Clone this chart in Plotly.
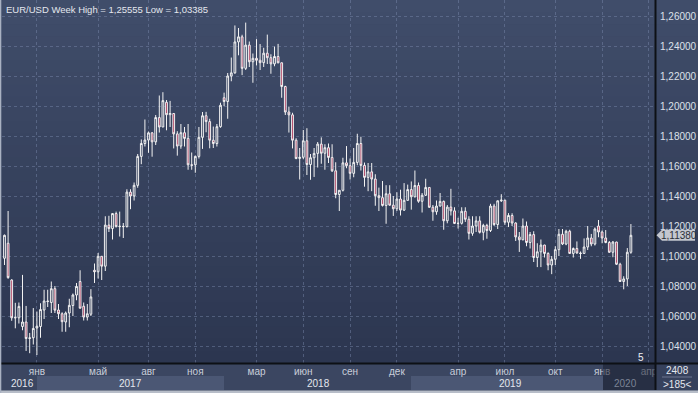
import pandas as pd
import plotly.graph_objects as go

# ---------------- data (weekly EUR/USD, week starting dates) ----------------
start_week = "2016-10-31"
open_ = [1.0985,1.1085,1.0840,1.0590,1.0588,1.0530,1.0560,1.0450,1.0455,1.0520,
         1.0530,1.0640,1.0700,1.0690,1.0782,1.0640,1.0615,1.0560,1.0620,1.0670,
         1.0740,1.0830,1.0665,1.0593,1.0612,1.0905,1.0895,1.0998,1.0932,1.1206,
         1.1183,1.1283,1.1196,1.1198,1.1196,1.1426,1.1400,1.1471,1.1664,1.1750,
         1.1773,1.1821,1.1761,1.1923,1.1860,1.2025,1.1942,1.1950,1.1814,1.1733,
         1.1822,1.1784,1.1608,1.1608,1.1664,1.1791,1.1935,1.1896,1.1772,1.1750,
         1.1862,1.2055,1.2030,1.2200,1.2221,1.2427,1.2461,1.2251,1.2406,1.2295,
         1.2318,1.2305,1.2289,1.2352,1.2322,1.2281,1.2330,1.2288,1.2130,1.1960,
         1.1941,1.1772,1.1650,1.1658,1.1768,1.1610,1.1655,1.1684,1.1746,1.1685,
         1.1722,1.1657,1.1568,1.1410,1.1438,1.1621,1.1602,1.1551,1.1624,1.1750,
         1.1604,1.1524,1.1561,1.1513,1.1402,1.1389,1.1337,1.1415,1.1339,1.1315,
         1.1380,1.1306,1.1371,1.1443,1.1395,1.1470,1.1365,1.1405,1.1457,1.1325,
         1.1295,1.1333,1.1364,1.1235,1.1326,1.1301,1.1217,1.1218,1.1298,1.1245,
         1.1151,1.1200,1.1234,1.1158,1.1204,1.1170,1.1333,1.1210,1.1368,1.1372,
         1.1225,1.1270,1.1220,1.1127,1.1108,1.1200,1.1090,1.1143,1.0990,1.1028,
         1.1073,1.1017,1.0940,1.0978,1.1042,1.1145,1.1080,1.1165,1.1017,1.1050,
         1.1020,1.1017,1.1060,1.1120,1.1080,1.1200,1.1160,1.1120,1.1090,1.1025,
         1.1093,1.0945,1.0830,1.0847,1.1025]
high = [1.1143,1.1300,1.0845,1.0688,1.0690,1.0874,1.0667,1.0487,1.0653,1.0630,
        1.0685,1.0775,1.0775,1.0830,1.0800,1.0680,1.0625,1.0630,1.0715,1.0750,
        1.0820,1.0905,1.0690,1.0680,1.0779,1.0950,1.1020,1.1000,1.1265,1.1268,
        1.1285,1.1296,1.1296,1.1220,1.1445,1.1445,1.1490,1.1680,1.1777,1.1910,
        1.1830,1.1826,1.1940,1.2070,1.2092,1.2040,1.2034,1.1952,1.1832,1.1880,
        1.1860,1.1880,1.1690,1.1670,1.1860,1.1960,1.1961,1.1915,1.1863,1.1880,
        1.2022,1.2089,1.2220,1.2323,1.2537,1.2520,1.2475,1.2556,1.2430,1.2350,
        1.2446,1.2413,1.2388,1.2476,1.2345,1.2396,1.2414,1.2290,1.2135,1.1996,
        1.1955,1.1785,1.1720,1.1840,1.1852,1.1680,1.1720,1.1760,1.1791,1.1745,
        1.1750,1.1745,1.1625,1.1440,1.1655,1.1733,1.1650,1.1720,1.1815,1.1795,
        1.1623,1.1620,1.1620,1.1545,1.1456,1.1500,1.1472,1.1472,1.1400,1.1425,
        1.1442,1.1486,1.1476,1.1497,1.1570,1.1490,1.1420,1.1515,1.1460,1.1340,
        1.1370,1.1420,1.1370,1.1340,1.1448,1.1325,1.1255,1.1325,1.1325,1.1265,
        1.1265,1.1265,1.1265,1.1215,1.1215,1.1348,1.1348,1.1370,1.1412,1.1375,
        1.1286,1.1285,1.1225,1.1160,1.1250,1.1230,1.1160,1.1165,1.1085,1.1110,
        1.1075,1.1025,1.1000,1.1065,1.1180,1.1180,1.1175,1.1175,1.1057,1.1097,
        1.1030,1.1117,1.1200,1.1147,1.1190,1.1240,1.1170,1.1173,1.1100,1.1100,
        1.1095,1.0955,1.0865,1.1053,1.1213]
low = [1.0940,1.0848,1.0568,1.0518,1.0550,1.0505,1.0367,1.0352,1.0410,1.0340,
       1.0455,1.0580,1.0660,1.0620,1.0620,1.0580,1.0495,1.0495,1.0525,1.0600,
       1.0705,1.0650,1.0570,1.0570,1.0600,1.0820,1.0850,1.0840,1.0900,1.1160,
       1.1110,1.1190,1.1130,1.1120,1.1190,1.1312,1.1370,1.1455,1.1612,1.1730,
       1.1688,1.1662,1.1740,1.1823,1.1860,1.1838,1.1860,1.1717,1.1669,1.1715,
       1.1730,1.1575,1.1575,1.1555,1.1650,1.1714,1.1825,1.1718,1.1720,1.1730,
       1.1855,1.1999,1.1915,1.2165,1.2215,1.2338,1.2206,1.2240,1.2260,1.2155,
       1.2270,1.2240,1.2260,1.2280,1.2215,1.2265,1.2285,1.2055,1.1940,1.1823,
       1.1717,1.1645,1.1510,1.1645,1.1540,1.1508,1.1527,1.1590,1.1615,1.1575,
       1.1620,1.1560,1.1385,1.1300,1.1430,1.1585,1.1510,1.1525,1.1605,1.1570,
       1.1462,1.1432,1.1432,1.1335,1.1300,1.1330,1.1215,1.1335,1.1267,1.1300,
       1.1270,1.1300,1.1370,1.1309,1.1390,1.1355,1.1290,1.1400,1.1320,1.1235,
       1.1275,1.1330,1.1175,1.1218,1.1270,1.1213,1.1183,1.1210,1.1227,1.1110,
       1.1135,1.1160,1.1150,1.1105,1.1115,1.1160,1.1200,1.1180,1.1360,1.1208,
       1.1193,1.1200,1.1100,1.1027,1.1105,1.1065,1.1050,1.0960,1.0926,1.0926,
       1.0990,1.0905,1.0879,1.0940,1.1000,1.1073,1.1072,1.1015,1.0990,1.1015,
       1.0981,1.1015,1.1040,1.1065,1.1070,1.1125,1.1085,1.1085,1.1020,1.0992,
       1.0940,1.0827,1.0778,1.0800,1.1015]
close = [1.1138,1.0856,1.0588,1.0588,1.0664,1.0560,1.0450,1.0454,1.0517,1.0532,
         1.0643,1.0700,1.0697,1.0782,1.0639,1.0615,1.0562,1.0620,1.0671,1.0740,
         1.0797,1.0652,1.0593,1.0615,1.0727,1.0895,1.0998,1.0932,1.1206,1.1183,
         1.1283,1.1196,1.1198,1.1196,1.1426,1.1400,1.1471,1.1664,1.1750,1.1773,
         1.1821,1.1761,1.1923,1.1860,1.2036,1.1942,1.1950,1.1814,1.1733,1.1822,
         1.1784,1.1608,1.1605,1.1664,1.1791,1.1935,1.1896,1.1772,1.1750,1.1862,
         1.2005,1.2030,1.2200,1.2221,1.2427,1.2461,1.2251,1.2406,1.2295,1.2318,
         1.2305,1.2289,1.2352,1.2322,1.2281,1.2330,1.2288,1.2130,1.1960,1.1941,
         1.1772,1.1650,1.1658,1.1768,1.1610,1.1655,1.1684,1.1746,1.1685,1.1722,
         1.1657,1.1568,1.1410,1.1438,1.1621,1.1602,1.1551,1.1624,1.1750,1.1604,
         1.1524,1.1561,1.1513,1.1402,1.1389,1.1337,1.1415,1.1339,1.1315,1.1380,
         1.1306,1.1371,1.1443,1.1395,1.1470,1.1365,1.1405,1.1457,1.1325,1.1295,
         1.1333,1.1364,1.1235,1.1326,1.1301,1.1217,1.1218,1.1298,1.1245,1.1151,
         1.1200,1.1234,1.1158,1.1204,1.1170,1.1333,1.1210,1.1368,1.1372,1.1225,
         1.1270,1.1220,1.1127,1.1108,1.1200,1.1090,1.1143,1.0990,1.1028,1.1073,
         1.1017,1.0940,1.0978,1.1042,1.1145,1.1080,1.1165,1.1017,1.1050,1.1020,
         1.1017,1.1060,1.1120,1.1080,1.1180,1.1160,1.1120,1.1090,1.1025,1.1093,
         1.0945,1.0830,1.0847,1.1025,1.1138]

month_ticks = ["2017-01-02","2017-05-01","2017-08-07","2017-11-06","2018-03-05",
               "2018-06-04","2018-09-03","2018-12-03","2019-04-01","2019-07-01",
               "2019-10-07","2020-01-06","2020-04-06"]
month_labels = ["янв","май","авг","ноя","мар","июн","сен","дек","апр","июл",
                "окт","янв","апр"]
price_ticks = [1.04,1.06,1.08,1.10,1.12,1.14,1.16,1.18,1.20,1.22,1.24,1.26]
price_labels = ["1,04000","1,06000","1,08000","1,10000","1,12000","1,14000",
                "1,16000","1,18000","1,20000","1,22000","1,24000","1,26000"]
year_labels = ["2016","2017","2018","2019","2020"]
year_pos_px = [22, 130, 318, 510, 625]
last_price = 1.1138
last_label = "1,11380"
title_text = "EUR/USD Week High = 1,25555 Low = 1,03385"

weeks = pd.date_range(start_week, periods=len(close), freq="7D")

# ---------------- layout geometry ----------------
W, H = 698, 393
ML, MR, MT, MB = 2, 43, 0, 30
PW, PH = W - ML - MR, H - MT - MB  # 653 x 363
step = 3.6       # px per week
x0_px = 4.5      # pixel of first candle
t0 = pd.Timestamp(start_week)
x_start = t0 + pd.Timedelta(days=7 * (ML - x0_px) / step)
x_end = t0 + pd.Timedelta(days=7 * (ML + PW - x0_px) / step)
y_lo, y_hi = 1.028667, 1.270667

def px(p):  # pixel x -> paper
    return (p - ML) / PW

def py(p):  # pixel y -> paper
    return (MT + PH - p) / PH

FONT = "Liberation Sans"

fig = go.Figure()
fig.add_trace(go.Candlestick(
    x=weeks, open=open_, high=high, low=low, close=close,
    increasing=dict(line=dict(color="#f2f2f2", width=1), fillcolor="rgba(0,0,0,0)"),
    decreasing=dict(line=dict(color="#f2f2f2", width=1), fillcolor="#a3264d"),
    whiskerwidth=0, hoverinfo="skip", showlegend=False,
))

shapes = []
# vertical gradient background over chart + right axis column
top_c = (64, 77, 106)
bot_c = (44, 54, 80)
N = 30
for k in range(N):
    f = (k + 0.5) / N
    c = tuple(int(round(top_c[j] + (bot_c[j] - top_c[j]) * f)) for j in range(3))
    shapes.append(dict(type="rect", xref="paper", yref="paper", layer="below",
                       x0=px(0), x1=px(W), y0=py(PH * (k + 1) / N + 0.5), y1=py(PH * k / N),
                       fillcolor="rgb(%d,%d,%d)" % c, line=dict(width=0)))
# bottom strip
shapes.append(dict(type="rect", xref="paper", yref="paper", layer="below",
                   x0=px(0), x1=px(W), y0=py(390), y1=py(363),
                   fillcolor="#3b4661", line=dict(width=0)))
for a, b in [(37, 224), (411, 603)]:
    shapes.append(dict(type="rect", xref="paper", yref="paper", layer="below",
                       x0=px(a), x1=px(b), y0=py(390), y1=py(376),
                       fillcolor="#4b5774", line=dict(width=0)))
# dark overlay at the right end of the time strip
shapes.append(dict(type="rect", xref="paper", yref="paper", layer="above",
                   x0=px(603), x1=px(655), y0=py(390), y1=py(364),
                   fillcolor="rgba(24,29,45,0.55)", line=dict(width=0)))
# right column bottom (covers clipped labels)
shapes.append(dict(type="rect", xref="paper", yref="paper", layer="above",
                   x0=px(656), x1=px(W), y0=py(390), y1=py(364),
                   fillcolor="#36415c", line=dict(width=0)))
shapes.append(dict(type="line", xref="paper", yref="paper", layer="above",
                   x0=px(662), x1=px(692), y0=py(377), y1=py(377),
                   line=dict(color="#6c7690", width=1)))
# black separators
shapes.append(dict(type="line", xref="paper", yref="paper", layer="above",
                   x0=px(0), x1=px(W), y0=py(363.5), y1=py(363.5),
                   line=dict(color="#0d1015", width=2)))
shapes.append(dict(type="line", xref="paper", yref="paper", layer="above",
                   x0=px(655.5), x1=px(655.5), y0=py(390), y1=py(0),
                   line=dict(color="#0d1015", width=2)))
# light frame
shapes.append(dict(type="rect", xref="paper", yref="paper", layer="above",
                   x0=px(0), x1=px(W), y0=py(H), y1=py(390.5),
                   fillcolor="#b7bdc8", line=dict(width=0)))
shapes.append(dict(type="rect", xref="paper", yref="paper", layer="above",
                   x0=px(0), x1=px(1.3), y0=py(H), y1=py(0),
                   fillcolor="#a9b1c1", line=dict(width=0)))
# current price marker
hh = 5.5 / PH * (y_hi - y_lo)
tip, bx0, bx1 = px(656.5), px(662), px(695)
shapes.append(dict(type="path", xref="paper", yref="y", layer="above",
                   path="M %f,%f L %f,%f L %f,%f L %f,%f L %f,%f Z" % (
                       tip, last_price, bx0, last_price + hh, bx1, last_price + hh,
                       bx1, last_price - hh, bx0, last_price - hh),
                   fillcolor="#c3c7cf", line=dict(width=0)))

annotations = [
    dict(text=title_text, xref="paper", yref="paper", x=px(4), y=py(2),
         xanchor="left", yanchor="top", showarrow=False,
         font=dict(family=FONT, size=9.5, color="#e4e7ee")),
    dict(text=last_label, xref="paper", yref="y", x=(bx0 + bx1) / 2, y=last_price,
         xanchor="center", yanchor="middle", showarrow=False,
         font=dict(family=FONT, size=10, color="#2b2f38")),
    dict(text="5", xref="paper", yref="paper", x=px(641), y=py(357),
         xanchor="center", yanchor="middle", showarrow=False,
         font=dict(family=FONT, size=10, color="#eef0f4")),
    dict(text="2408", xref="paper", yref="paper", x=px(677), y=py(370),
         xanchor="center", yanchor="middle", showarrow=False,
         font=dict(family=FONT, size=10, color="#e4e7ee")),
    dict(text=">185<", xref="paper", yref="paper", x=px(677), y=py(384),
         xanchor="center", yanchor="middle", showarrow=False,
         font=dict(family=FONT, size=10, color="#e4e7ee")),
]
for lab, xp in zip(year_labels, year_pos_px):
    annotations.append(dict(text=lab, xref="paper", yref="paper", x=px(xp), y=py(383.5),
                            xanchor="center", yanchor="middle", showarrow=False,
                            font=dict(family=FONT, size=10,
                                      color="#7b8396" if lab == "2020" else "#e4e7ee")))

grid_col = "rgba(125,140,175,0.45)"
fig.update_layout(
    width=W, height=H,
    margin=dict(l=ML, r=MR, t=MT, b=MB),
    paper_bgcolor="#3b4661", plot_bgcolor="rgba(0,0,0,0)",
    showlegend=False, hovermode=False,
    shapes=shapes, annotations=annotations,
    font=dict(family=FONT, size=10, color="#e4e7ee"),
    xaxis=dict(type="date", range=[x_start, x_end], rangeslider=dict(visible=False),
               tickvals=month_ticks, ticktext=month_labels,
               showgrid=True, gridcolor=grid_col, griddash="3px,3px", gridwidth=1,
               ticks="", showline=False, zeroline=False,
               tickfont=dict(family=FONT, size=10, color="#c9ceda"),
               ticklabelstandoff=1, fixedrange=True),
    yaxis=dict(range=[y_lo, y_hi], side="right",
               tickvals=price_ticks, ticktext=price_labels,
               showgrid=True, gridcolor=grid_col, griddash="3px,3px", gridwidth=1,
               ticks="", showline=False, zeroline=False,
               tickfont=dict(family=FONT, size=10, color="#dde1ea"),
               ticklabelstandoff=4, fixedrange=True),
)

fig.write_html("out.html", config={"displayModeBar": False, "staticPlot": True},
               post_script="document.body.style.margin='0';")
with open("out.html", "r", encoding="utf-8") as fh:
    html = fh.read()
html = html.replace("<head>", "<head><style>html,body{margin:0;padding:0;overflow:hidden;}</style>", 1)
with open("out.html", "w", encoding="utf-8") as fh:
    fh.write(html)
